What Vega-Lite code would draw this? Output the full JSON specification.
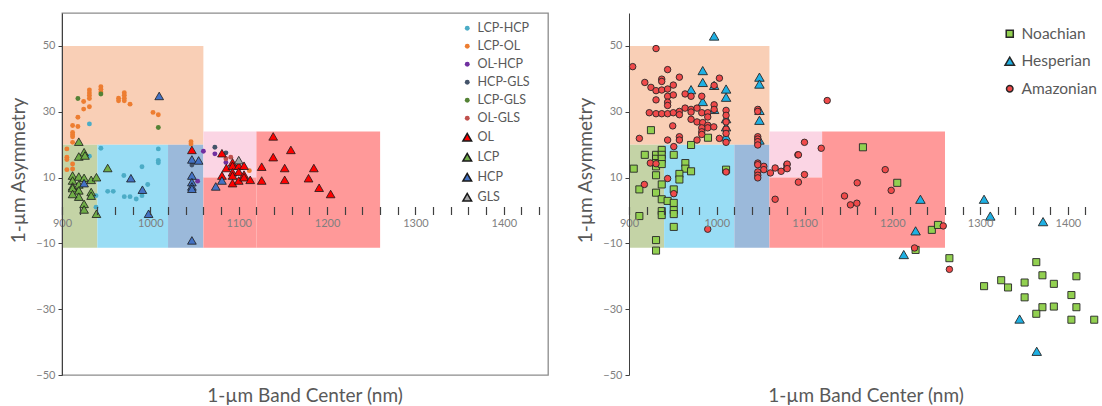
{
  "$schema": "https://vega.github.io/schema/vega-lite/v6.json",
  "background": "white",
  "padding": {"left": 9, "top": 12, "right": 0, "bottom": 0},
  "config": {
    "font": "Lato",
    "view": {"stroke": "#8c8c8c", "strokeWidth": 1.3},
    "axis": {"grid": false, "labelColor": "#7f7f7f", "labelFontSize": 11, "titleColor": "#595959", "titleFontSize": 19, "titleFontWeight": "normal", "tickColor": "#404040", "domainColor": "#404040"},
    "legend": {"labelColor": "#595959", "title": null}
  },
  "resolve": {"scale": {"fill": "independent", "shape": "independent", "size": "independent", "stroke": "independent", "color": "independent"}},
  "datasets": {
    "regions": [
      {"region": "LCP-OL", "x1": 900, "x2": 1060, "y1": 20, "y2": 50},
      {"region": "LCP", "x1": 900, "x2": 940, "y1": -11.3, "y2": 20},
      {"region": "HCP", "x1": 940, "x2": 1020, "y1": -11.3, "y2": 20},
      {"region": "GLS", "x1": 1020, "x2": 1060, "y1": -11.3, "y2": 20},
      {"region": "OL-HCP", "x1": 1060, "x2": 1120, "y1": 10, "y2": 24},
      {"region": "OL", "x1": 1060, "x2": 1120, "y1": -11.3, "y2": 10},
      {"region": "OL", "x1": 1120, "x2": 1260, "y1": -11.3, "y2": 24}
    ],
    "left": [
      {"s": "LCP-HCP", "x": 931, "y": 26.3}, {"s": "LCP-HCP", "x": 944, "y": 18.9}, {"s": "LCP-HCP", "x": 1009, "y": 18.7}, {"s": "LCP-HCP", "x": 1009, "y": 15.2}, {"s": "LCP-HCP", "x": 1009, "y": 14.5}, {"s": "LCP-HCP", "x": 990.5, "y": 13.3}, {"s": "LCP-HCP", "x": 970, "y": 10.6}, {"s": "LCP-HCP", "x": 997, "y": 7.9}, {"s": "LCP-HCP", "x": 951.7, "y": 5.8}, {"s": "LCP-HCP", "x": 958, "y": 5.8}, {"s": "LCP-HCP", "x": 970.5, "y": 4.2}, {"s": "LCP-HCP", "x": 977, "y": 4.2}, {"s": "LCP-HCP", "x": 984, "y": 3.5}, {"s": "LCP-HCP", "x": 990.5, "y": 4.5}, {"s": "LCP-HCP", "x": 938.5, "y": 4.5}, {"s": "LCP-HCP", "x": 938.5, "y": 1.0}, {"s": "LCP-HCP", "x": 918, "y": 3.8}, {"s": "LCP-HCP", "x": 931, "y": 16.5},
      {"s": "LCP-OL", "x": 944, "y": 37.6}, {"s": "LCP-OL", "x": 944, "y": 36.8}, {"s": "LCP-OL", "x": 944, "y": 36.0}, {"s": "LCP-OL", "x": 931, "y": 36.6}, {"s": "LCP-OL", "x": 931, "y": 35.7}, {"s": "LCP-OL", "x": 931, "y": 34.9}, {"s": "LCP-OL", "x": 931, "y": 34.0}, {"s": "LCP-OL", "x": 931, "y": 31.5}, {"s": "LCP-OL", "x": 924.5, "y": 33.1}, {"s": "LCP-OL", "x": 924.5, "y": 30.8}, {"s": "LCP-OL", "x": 918, "y": 28.3}, {"s": "LCP-OL", "x": 918, "y": 25.5}, {"s": "LCP-OL", "x": 912, "y": 25.8}, {"s": "LCP-OL", "x": 912, "y": 23.7}, {"s": "LCP-OL", "x": 912, "y": 23.0}, {"s": "LCP-OL", "x": 912, "y": 22.4}, {"s": "LCP-OL", "x": 912, "y": 20.7}, {"s": "LCP-OL", "x": 905.5, "y": 18.7}, {"s": "LCP-OL", "x": 905.5, "y": 16.2}, {"s": "LCP-OL", "x": 905.5, "y": 15.5}, {"s": "LCP-OL", "x": 905.5, "y": 12.4}, {"s": "LCP-OL", "x": 912, "y": 14.1}, {"s": "LCP-OL", "x": 912, "y": 12.6}, {"s": "LCP-OL", "x": 964, "y": 34.1}, {"s": "LCP-OL", "x": 964, "y": 33.3}, {"s": "LCP-OL", "x": 970.5, "y": 35.8}, {"s": "LCP-OL", "x": 970.5, "y": 35.0}, {"s": "LCP-OL", "x": 970.5, "y": 34.1}, {"s": "LCP-OL", "x": 970.5, "y": 33.3}, {"s": "LCP-OL", "x": 977, "y": 32.3}, {"s": "LCP-OL", "x": 1003, "y": 29.8}, {"s": "LCP-OL", "x": 1009, "y": 29.1}, {"s": "LCP-OL", "x": 1046, "y": 20.9}, {"s": "LCP-OL", "x": 1046, "y": 20.2}, {"s": "LCP-OL", "x": 1112, "y": 12.1},
      {"s": "OL-HCP", "x": 1060, "y": 18}, {"s": "OL-HCP", "x": 1073, "y": 17.2}, {"s": "OL-HCP", "x": 1085.5, "y": 14.6}, {"s": "OL-HCP", "x": 1053.5, "y": 8.9},
      {"s": "HCP-GLS", "x": 1073, "y": 19.2}, {"s": "HCP-GLS", "x": 1085.5, "y": 17.5}, {"s": "HCP-GLS", "x": 1047, "y": 13.8},
      {"s": "LCP-GLS", "x": 918, "y": 34.0}, {"s": "LCP-GLS", "x": 944, "y": 35.4}, {"s": "LCP-GLS", "x": 1009, "y": 25.2},
      {"s": "OL-GLS", "x": 1085.5, "y": 15.7}, {"s": "OL-GLS", "x": 1091, "y": 16.2},
      {"s": "OL", "x": 1047, "y": 18.4}, {"s": "OL", "x": 1081, "y": 17.4}, {"s": "OL", "x": 1139, "y": 22.5}, {"s": "OL", "x": 1159, "y": 18.4}, {"s": "OL", "x": 1139, "y": 16.2}, {"s": "OL", "x": 1126, "y": 13.3}, {"s": "OL", "x": 1152, "y": 12.9}, {"s": "OL", "x": 1185, "y": 12.9}, {"s": "OL", "x": 1126, "y": 9.1}, {"s": "OL", "x": 1152, "y": 9.3}, {"s": "OL", "x": 1179, "y": 9.8}, {"s": "OL", "x": 1191, "y": 6.9}, {"s": "OL", "x": 1204, "y": 5.0}, {"s": "OL", "x": 1086, "y": 12.9}, {"s": "OL", "x": 1093, "y": 14.6}, {"s": "OL", "x": 1093, "y": 13.6}, {"s": "OL", "x": 1093, "y": 11.6}, {"s": "OL", "x": 1093, "y": 10.6}, {"s": "OL", "x": 1093, "y": 8.3}, {"s": "OL", "x": 1100, "y": 13.6}, {"s": "OL", "x": 1100, "y": 11.8}, {"s": "OL", "x": 1100, "y": 9.1}, {"s": "OL", "x": 1106, "y": 13.6}, {"s": "OL", "x": 1106, "y": 10.9}, {"s": "OL", "x": 1106, "y": 10.1}, {"s": "OL", "x": 1113, "y": 9.3}, {"s": "OL", "x": 1081, "y": 10.6},
      {"s": "LCP", "x": 919, "y": 20.9}, {"s": "LCP", "x": 925, "y": 17.7}, {"s": "LCP", "x": 919, "y": 16.4}, {"s": "LCP", "x": 926, "y": 16.7}, {"s": "LCP", "x": 951.7, "y": 12.9}, {"s": "LCP", "x": 912, "y": 10.6}, {"s": "LCP", "x": 919, "y": 10.3}, {"s": "LCP", "x": 925, "y": 9.9}, {"s": "LCP", "x": 933, "y": 9.3}, {"s": "LCP", "x": 939, "y": 10.1}, {"s": "LCP", "x": 912, "y": 9.1}, {"s": "LCP", "x": 912, "y": 7.3}, {"s": "LCP", "x": 912, "y": 6.8}, {"s": "LCP", "x": 919, "y": 7.9}, {"s": "LCP", "x": 919, "y": 6.1}, {"s": "LCP", "x": 933, "y": 5.6}, {"s": "LCP", "x": 919, "y": 4.2}, {"s": "LCP", "x": 933, "y": 4.5}, {"s": "LCP", "x": 912, "y": 5.0}, {"s": "LCP", "x": 925, "y": 2.0}, {"s": "LCP", "x": 925, "y": 0.3}, {"s": "LCP", "x": 939, "y": -1.0},
      {"s": "HCP", "x": 1010, "y": 34.8}, {"s": "HCP", "x": 978, "y": 9.8}, {"s": "HCP", "x": 991, "y": 6.3}, {"s": "HCP", "x": 998, "y": -1.0}, {"s": "HCP", "x": 925, "y": 8.3}, {"s": "HCP", "x": 1047, "y": 15.5}, {"s": "HCP", "x": 1054.6, "y": 15.2}, {"s": "HCP", "x": 1047, "y": 10.6}, {"s": "HCP", "x": 1047, "y": 8.6}, {"s": "HCP", "x": 1047, "y": 7.3}, {"s": "HCP", "x": 1047, "y": 6.6}, {"s": "HCP", "x": 1047, "y": -9.1}, {"s": "HCP", "x": 1074, "y": 7.3}, {"s": "HCP", "x": 1081, "y": 9.1},
      {"s": "GLS", "x": 1100, "y": 15.3}
    ],
    "right": [
      {"e": "Noachian", "x": 925, "y": 24.4}, {"e": "Noachian", "x": 990, "y": 22.1}, {"e": "Noachian", "x": 970.7, "y": 19.9}, {"e": "Noachian", "x": 918, "y": 16.9}, {"e": "Noachian", "x": 905.4, "y": 12.7}, {"e": "Noachian", "x": 930.8, "y": 16.9}, {"e": "Noachian", "x": 930.8, "y": 15.7}, {"e": "Noachian", "x": 930.8, "y": 14.4}, {"e": "Noachian", "x": 930.8, "y": 13.4}, {"e": "Noachian", "x": 937.3, "y": 18.4}, {"e": "Noachian", "x": 937.3, "y": 16.9}, {"e": "Noachian", "x": 937.3, "y": 15.7}, {"e": "Noachian", "x": 937.3, "y": 14.1}, {"e": "Noachian", "x": 951, "y": 16.9}, {"e": "Noachian", "x": 964.2, "y": 14.4}, {"e": "Noachian", "x": 964.2, "y": 12.7}, {"e": "Noachian", "x": 957.4, "y": 11.1}, {"e": "Noachian", "x": 957.4, "y": 9.4}, {"e": "Noachian", "x": 970.7, "y": 11.9}, {"e": "Noachian", "x": 1010.6, "y": 12.4}, {"e": "Noachian", "x": 930.8, "y": 10.7}, {"e": "Noachian", "x": 937.3, "y": 7.9}, {"e": "Noachian", "x": 911.8, "y": 6.4}, {"e": "Noachian", "x": 930.8, "y": 5.4}, {"e": "Noachian", "x": 937.3, "y": 3.4}, {"e": "Noachian", "x": 944, "y": 2.9}, {"e": "Noachian", "x": 951, "y": 2.3}, {"e": "Noachian", "x": 951, "y": 6.4}, {"e": "Noachian", "x": 937.3, "y": -0.2}, {"e": "Noachian", "x": 937.3, "y": -1.4}, {"e": "Noachian", "x": 951, "y": 0.1}, {"e": "Noachian", "x": 951, "y": -1.1}, {"e": "Noachian", "x": 911.8, "y": -1.7}, {"e": "Noachian", "x": 951, "y": -5.0}, {"e": "Noachian", "x": 930.8, "y": -9.0}, {"e": "Noachian", "x": 930.8, "y": -12.2}, {"e": "Noachian", "x": 1166.5, "y": 19.2}, {"e": "Noachian", "x": 1205.6, "y": 8.4}, {"e": "Noachian", "x": 1245, "y": -5.9}, {"e": "Noachian", "x": 1252, "y": -4.4}, {"e": "Noachian", "x": 1226.5, "y": -12.0}, {"e": "Noachian", "x": 1265, "y": -14.5}, {"e": "Noachian", "x": 1304.5, "y": -23.0}, {"e": "Noachian", "x": 1324, "y": -21.2}, {"e": "Noachian", "x": 1331.8, "y": -23.4}, {"e": "Noachian", "x": 1350.7, "y": -21.9}, {"e": "Noachian", "x": 1350.7, "y": -26.4}, {"e": "Noachian", "x": 1364, "y": -15.7}, {"e": "Noachian", "x": 1371, "y": -19.7}, {"e": "Noachian", "x": 1384, "y": -22.3}, {"e": "Noachian", "x": 1409.7, "y": -20.0}, {"e": "Noachian", "x": 1404, "y": -25.7}, {"e": "Noachian", "x": 1371, "y": -29.4}, {"e": "Noachian", "x": 1364, "y": -31.4}, {"e": "Noachian", "x": 1384, "y": -29.2}, {"e": "Noachian", "x": 1409.7, "y": -29.4}, {"e": "Noachian", "x": 1404, "y": -33.2}, {"e": "Noachian", "x": 1430, "y": -33.2},
      {"e": "Hesperian", "x": 997, "y": 53.0}, {"e": "Hesperian", "x": 984, "y": 42.5}, {"e": "Hesperian", "x": 984, "y": 38.9}, {"e": "Hesperian", "x": 970.7, "y": 36.7}, {"e": "Hesperian", "x": 997, "y": 38.0}, {"e": "Hesperian", "x": 1010.6, "y": 36.9}, {"e": "Hesperian", "x": 1010.6, "y": 34.4}, {"e": "Hesperian", "x": 984, "y": 33.1}, {"e": "Hesperian", "x": 997, "y": 30.7}, {"e": "Hesperian", "x": 1048.6, "y": 40.5}, {"e": "Hesperian", "x": 1048.6, "y": 38.4}, {"e": "Hesperian", "x": 1048.6, "y": 30.4}, {"e": "Hesperian", "x": 1048.6, "y": 27.4}, {"e": "Hesperian", "x": 1010.6, "y": 27.9}, {"e": "Hesperian", "x": 1010.6, "y": 25.4}, {"e": "Hesperian", "x": 1010.6, "y": 22.4}, {"e": "Hesperian", "x": 1048.6, "y": 21.4}, {"e": "Hesperian", "x": 1232, "y": 3.4}, {"e": "Hesperian", "x": 1304.5, "y": 3.4}, {"e": "Hesperian", "x": 1311.6, "y": -1.7}, {"e": "Hesperian", "x": 1371.7, "y": -3.4}, {"e": "Hesperian", "x": 1226.5, "y": -6.2}, {"e": "Hesperian", "x": 1213, "y": -13.4}, {"e": "Hesperian", "x": 1345, "y": -33.0}, {"e": "Hesperian", "x": 1364.5, "y": -42.8},
      {"e": "Amazonian", "x": 930.8, "y": 49.2}, {"e": "Amazonian", "x": 904.2, "y": 43.7}, {"e": "Amazonian", "x": 944, "y": 42.8}, {"e": "Amazonian", "x": 957.4, "y": 40.5}, {"e": "Amazonian", "x": 1003, "y": 40.2}, {"e": "Amazonian", "x": 918, "y": 38.9}, {"e": "Amazonian", "x": 925, "y": 37.4}, {"e": "Amazonian", "x": 930.8, "y": 36.4}, {"e": "Amazonian", "x": 937.3, "y": 36.6}, {"e": "Amazonian", "x": 944, "y": 36.9}, {"e": "Amazonian", "x": 950.5, "y": 38.1}, {"e": "Amazonian", "x": 937.3, "y": 39.9}, {"e": "Amazonian", "x": 937.3, "y": 39.2}, {"e": "Amazonian", "x": 944, "y": 34.7}, {"e": "Amazonian", "x": 944, "y": 32.9}, {"e": "Amazonian", "x": 944, "y": 31.9}, {"e": "Amazonian", "x": 950.5, "y": 35.1}, {"e": "Amazonian", "x": 930.8, "y": 33.6}, {"e": "Amazonian", "x": 963.9, "y": 35.4}, {"e": "Amazonian", "x": 970.7, "y": 34.7}, {"e": "Amazonian", "x": 982.9, "y": 34.7}, {"e": "Amazonian", "x": 997, "y": 38.0}, {"e": "Amazonian", "x": 923.1, "y": 29.7}, {"e": "Amazonian", "x": 930.8, "y": 29.4}, {"e": "Amazonian", "x": 937.3, "y": 29.4}, {"e": "Amazonian", "x": 944, "y": 29.4}, {"e": "Amazonian", "x": 950.5, "y": 29.7}, {"e": "Amazonian", "x": 957.4, "y": 30.1}, {"e": "Amazonian", "x": 957.4, "y": 29.1}, {"e": "Amazonian", "x": 963.9, "y": 31.1}, {"e": "Amazonian", "x": 970.7, "y": 30.7}, {"e": "Amazonian", "x": 970.7, "y": 29.9}, {"e": "Amazonian", "x": 977.5, "y": 31.1}, {"e": "Amazonian", "x": 982.9, "y": 29.7}, {"e": "Amazonian", "x": 989.7, "y": 29.7}, {"e": "Amazonian", "x": 989.7, "y": 28.4}, {"e": "Amazonian", "x": 997, "y": 32.1}, {"e": "Amazonian", "x": 997, "y": 30.7}, {"e": "Amazonian", "x": 1010.6, "y": 30.4}, {"e": "Amazonian", "x": 970.7, "y": 27.7}, {"e": "Amazonian", "x": 977.5, "y": 26.9}, {"e": "Amazonian", "x": 984, "y": 26.7}, {"e": "Amazonian", "x": 989.7, "y": 25.9}, {"e": "Amazonian", "x": 989.7, "y": 25.1}, {"e": "Amazonian", "x": 996.6, "y": 25.4}, {"e": "Amazonian", "x": 982.9, "y": 25.1}, {"e": "Amazonian", "x": 1010.6, "y": 28.9}, {"e": "Amazonian", "x": 1010.6, "y": 26.9}, {"e": "Amazonian", "x": 1010.6, "y": 24.7}, {"e": "Amazonian", "x": 1010.6, "y": 23.4}, {"e": "Amazonian", "x": 982.9, "y": 23.9}, {"e": "Amazonian", "x": 982.9, "y": 23.1}, {"e": "Amazonian", "x": 949.8, "y": 25.7}, {"e": "Amazonian", "x": 1046.7, "y": 30.7}, {"e": "Amazonian", "x": 1046.7, "y": 30.1}, {"e": "Amazonian", "x": 1046.7, "y": 22.4}, {"e": "Amazonian", "x": 1046.7, "y": 21.7}, {"e": "Amazonian", "x": 957.4, "y": 22.4}, {"e": "Amazonian", "x": 944, "y": 21.4}, {"e": "Amazonian", "x": 1003, "y": 21.9}, {"e": "Amazonian", "x": 977.5, "y": 21.4}, {"e": "Amazonian", "x": 911.8, "y": 21.9}, {"e": "Amazonian", "x": 957.4, "y": 21.4}, {"e": "Amazonian", "x": 1010.6, "y": 20.7}, {"e": "Amazonian", "x": 951, "y": 19.4}, {"e": "Amazonian", "x": 1046.7, "y": 20.9}, {"e": "Amazonian", "x": 1046.7, "y": 19.9}, {"e": "Amazonian", "x": 924.3, "y": 14.4}, {"e": "Amazonian", "x": 930.8, "y": 14.2}, {"e": "Amazonian", "x": 1046.7, "y": 14.4}, {"e": "Amazonian", "x": 1046.7, "y": 13.9}, {"e": "Amazonian", "x": 1046.7, "y": 11.7}, {"e": "Amazonian", "x": 1046.7, "y": 10.7}, {"e": "Amazonian", "x": 1046.7, "y": 9.9}, {"e": "Amazonian", "x": 1053.6, "y": 13.4}, {"e": "Amazonian", "x": 1053.6, "y": 12.4}, {"e": "Amazonian", "x": 1061.1, "y": 11.4}, {"e": "Amazonian", "x": 1066.5, "y": 12.9}, {"e": "Amazonian", "x": 1073.3, "y": 11.9}, {"e": "Amazonian", "x": 1079.8, "y": 13.9}, {"e": "Amazonian", "x": 1079.8, "y": 12.9}, {"e": "Amazonian", "x": 1092.4, "y": 16.9}, {"e": "Amazonian", "x": 1010.6, "y": 11.7}, {"e": "Amazonian", "x": 944, "y": 9.7}, {"e": "Amazonian", "x": 917.5, "y": 7.9}, {"e": "Amazonian", "x": 1066.5, "y": 3.4}, {"e": "Amazonian", "x": 951, "y": 5.1}, {"e": "Amazonian", "x": 989.7, "y": -5.7}, {"e": "Amazonian", "x": 1125.8, "y": 33.4}, {"e": "Amazonian", "x": 1099.9, "y": 20.7}, {"e": "Amazonian", "x": 1119, "y": 18.9}, {"e": "Amazonian", "x": 1093, "y": 16.9}, {"e": "Amazonian", "x": 1080.2, "y": 14.1}, {"e": "Amazonian", "x": 1080.2, "y": 12.7}, {"e": "Amazonian", "x": 1099.9, "y": 10.9}, {"e": "Amazonian", "x": 1093, "y": 8.6}, {"e": "Amazonian", "x": 1191.9, "y": 12.4}, {"e": "Amazonian", "x": 1160, "y": 8.4}, {"e": "Amazonian", "x": 1198.7, "y": 6.1}, {"e": "Amazonian", "x": 1145.5, "y": 4.4}, {"e": "Amazonian", "x": 1152.3, "y": 1.7}, {"e": "Amazonian", "x": 1159.6, "y": 2.2}, {"e": "Amazonian", "x": 1258, "y": -4.7}, {"e": "Amazonian", "x": 1225.3, "y": -11.4}, {"e": "Amazonian", "x": 1265, "y": -17.9}
    ]
  },
  "spacing": 27,
  "hconcat": [
    {
      "width": 486,
      "height": 362,
      "title": {"text": "1-µm Band Center (nm)", "orient": "bottom", "anchor": "middle", "frame": "group", "fontSize": 19, "fontWeight": "normal", "color": "#595959", "offset": 7},
      "layer": [
        {
          "data": {"name": "regions"},
          "mark": {"type": "rect"},
          "encoding": {
            "x": {"field": "x1", "type": "quantitative", "scale": {"domain": [900, 1450], "nice": false, "zero": false},
                  "axis": {"title": null, "zindex": 2, "values": [900,920,940,960,980,1000,1020,1040,1060,1080,1100,1120,1140,1160,1180,1200,1220,1240,1260,1280,1300,1320,1340,1360,1380,1400,1420,1440],
                           "tickCount": 100, "labelExpr": "datum.value % 100 === 0 ? format(datum.value, 'd') : ''", "labelOverlap": false, "labelFlush": false,
                           "offset": -168.5, "domain": false, "tickSize": 8, "tickWidth": 1.2, "labelPadding": 2.5}},
            "x2": {"field": "x2"},
            "y": {"field": "y1", "type": "quantitative", "scale": {"domain": [-50, 60], "nice": false, "zero": false},
                  "axis": {"title": "1-µm Asymmetry", "zindex": 2, "values": [-50, -30, -10, 10, 30, 50], "tickCount": 100, "tickSize": 4, "labelPadding": 3, "titlePadding": 7, "titleY": 157}},
            "y2": {"field": "y2"},
            "color": {"field": "region", "type": "nominal", "legend": null,
                      "scale": {"domain": ["LCP-OL", "LCP", "HCP", "GLS", "OL-HCP", "OL"], "range": ["#f9cfb6", "#c4d3a6", "#99ddf5", "#9bb9da", "#fbd5e4", "#ff9999"]}}
          }
        },
        {"mark": {"type": "rule", "color": "#404040", "strokeWidth": 1.2}, "encoding": {"y": {"datum": 0, "type": "quantitative"}}},
        {
          "data": {"name": "left"},
          "mark": {"type": "point", "filled": true, "opacity": 1, "strokeWidth": 0.8},
          "encoding": {
            "x": {"field": "x", "type": "quantitative"},
            "y": {"field": "y", "type": "quantitative"},
            "fill": {"field": "s", "type": "nominal",
                     "scale": {"domain": ["LCP-HCP", "LCP-OL", "OL-HCP", "HCP-GLS", "LCP-GLS", "OL-GLS", "OL", "LCP", "HCP", "GLS"],
                               "range": ["#4bacc6", "#ed7d31", "#7030a0", "#44546a", "#548235", "#c0504d", "#ff0000", "#70ad47", "#4472c4", "#a5a5a5"]},
                     "legend": {"orient": "none", "legendX": 399, "legendY": 9, "labelFontSize": 12.5, "rowPadding": 5, "labelOffset": 4, "padding": 0}},
            "shape": {"field": "s", "type": "nominal",
                      "scale": {"domain": ["LCP-HCP", "LCP-OL", "OL-HCP", "HCP-GLS", "LCP-GLS", "OL-GLS", "OL", "LCP", "HCP", "GLS"],
                                "range": ["circle", "circle", "circle", "circle", "circle", "circle", "triangle-up", "triangle-up", "triangle-up", "triangle-up"]}},
            "stroke": {"field": "s", "type": "nominal",
                       "scale": {"domain": ["LCP-HCP", "LCP-OL", "OL-HCP", "HCP-GLS", "LCP-GLS", "OL-GLS", "OL", "LCP", "HCP", "GLS"],
                                 "range": ["transparent", "transparent", "transparent", "transparent", "transparent", "transparent", "#1a1a1a", "#1a1a1a", "#1a1a1a", "#1a1a1a"]}},
            "size": {"field": "s", "type": "nominal",
                     "scale": {"type": "ordinal", "domain": ["LCP-HCP", "LCP-OL", "OL-HCP", "HCP-GLS", "LCP-GLS", "OL-GLS", "OL", "LCP", "HCP", "GLS"],
                               "range": [24, 24, 24, 24, 24, 24, 76, 76, 76, 76]}}
          }
        }
      ]
    },
    {
      "width": 474,
      "height": 362,
      "view": {"stroke": null},
      "title": {"text": "1-µm Band Center (nm)", "orient": "bottom", "anchor": "middle", "frame": "group", "fontSize": 19, "fontWeight": "normal", "color": "#595959", "offset": 7},
      "layer": [
        {
          "data": {"name": "regions"},
          "mark": {"type": "rect"},
          "encoding": {
            "x": {"field": "x1", "type": "quantitative", "scale": {"domain": [900, 1440], "nice": false, "zero": false},
                  "axis": {"title": null, "zindex": 2, "values": [900,920,940,960,980,1000,1020,1040,1060,1080,1100,1120,1140,1160,1180,1200,1220,1240,1260,1280,1300,1320,1340,1360,1380,1400,1420,1440],
                           "tickCount": 100, "labelExpr": "datum.value % 100 === 0 ? format(datum.value, 'd') : ''", "labelOverlap": false, "labelFlush": false,
                           "offset": -168.5, "domain": false, "tickSize": 8, "tickWidth": 1.2, "labelPadding": 2.5}},
            "x2": {"field": "x2"},
            "y": {"field": "y1", "type": "quantitative", "scale": {"domain": [-50, 60], "nice": false, "zero": false},
                  "axis": {"title": "1-µm Asymmetry", "zindex": 2, "values": [-50, -30, -10, 10, 30, 50], "tickCount": 100, "tickSize": 4, "labelPadding": 3, "titlePadding": 7, "titleY": 157}},
            "y2": {"field": "y2"},
            "color": {"field": "region", "type": "nominal", "legend": null,
                      "scale": {"domain": ["LCP-OL", "LCP", "HCP", "GLS", "OL-HCP", "OL"], "range": ["#f9cfb6", "#c4d3a6", "#99ddf5", "#9bb9da", "#fbd5e4", "#ff9999"]}}
          }
        },
        {"mark": {"type": "rule", "color": "#8c8c8c", "strokeWidth": 1.3}, "encoding": {"y": {"datum": 60, "type": "quantitative"}}},
        {"mark": {"type": "rule", "color": "#8c8c8c", "strokeWidth": 1.3}, "encoding": {"y": {"datum": -50, "type": "quantitative"}}},
        {"mark": {"type": "rule", "color": "#404040", "strokeWidth": 1.2}, "encoding": {"y": {"datum": 0, "type": "quantitative"}}},
        {
          "data": {"name": "right"},
          "mark": {"type": "point", "filled": true, "opacity": 1, "strokeWidth": 0.9, "stroke": "#262626"},
          "encoding": {
            "x": {"field": "x", "type": "quantitative"},
            "y": {"field": "y", "type": "quantitative"},
            "fill": {"field": "e", "type": "nominal",
                     "scale": {"domain": ["Noachian", "Hesperian", "Amazonian"], "range": ["#92d050", "#1fb0e3", "#f04a4a"]},
                     "legend": {"orient": "none", "legendX": 373, "legendY": 13, "labelFontSize": 15.5, "rowPadding": 10.5, "labelOffset": 4, "padding": 0}},
            "shape": {"field": "e", "type": "nominal",
                      "scale": {"domain": ["Noachian", "Hesperian", "Amazonian"], "range": ["square", "triangle-up", "circle"]}},
            "size": {"field": "e", "type": "nominal",
                     "scale": {"type": "ordinal", "domain": ["Noachian", "Hesperian", "Amazonian"], "range": [50, 90, 42]}}
          }
        }
      ]
    }
  ]
}
